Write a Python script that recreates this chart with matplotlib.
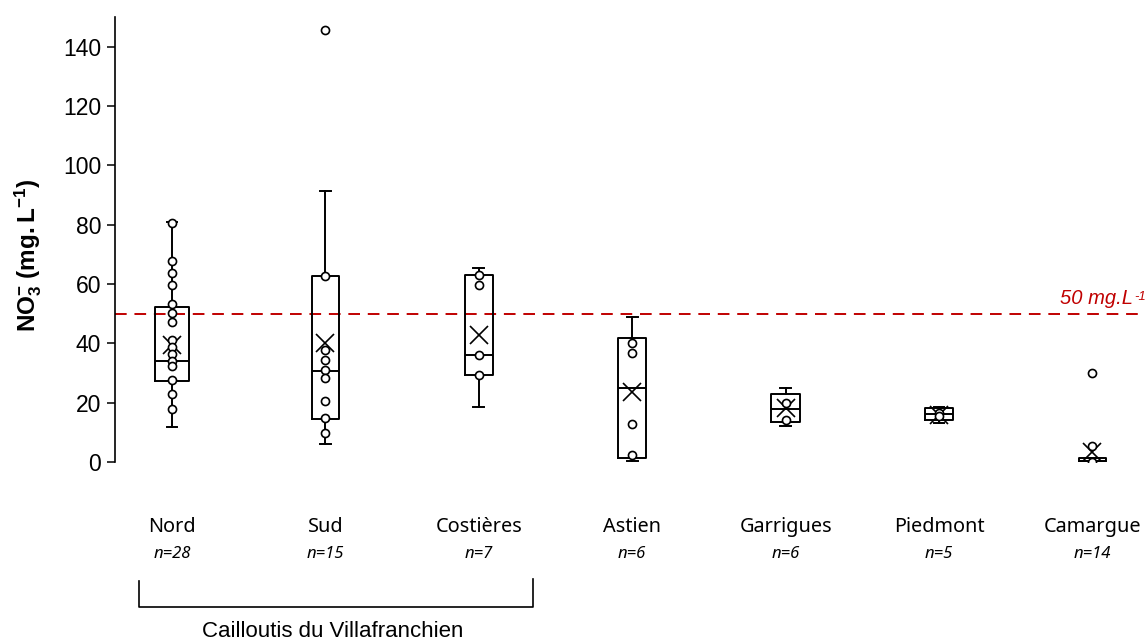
import numpy as np
import matplotlib
matplotlib.use("Agg")
import matplotlib.pyplot as plt
from matplotlib.lines import Line2D
from matplotlib.transforms import blended_transform_factory

plt.rcParams["mathtext.fontset"] = "custom"
plt.rcParams["mathtext.rm"] = "Liberation Sans"
plt.rcParams["mathtext.bf"] = "Liberation Sans:bold"
plt.rcParams["mathtext.it"] = "Liberation Sans:italic"

# ---- data ----
groups = ["Nord", "Sud", "Costières", "Astien", "Garrigues", "Piedmont", "Camargue"]
n_obs = [28, 15, 7, 6, 6, 5, 14]
q1 = [27.4, 14.5, 29.4, 1.2, 13.6, 14.2, 0.0]
medians = [33.9, 30.7, 36.0, 25.1, 17.8, 16.1, 0.5]
q3 = [52.4, 62.8, 62.9, 41.9, 22.9, 18.1, 1.2]
whis_lo = [11.9, 6.1, 18.7, 0.4, 12.2, 13.0, 0.0]
whis_hi = [80.8, 91.2, 65.3, 49.0, 24.9, 18.7, 1.2]
means = [39.5, 40.0, 42.8, 23.7, 18.1, 16.0, 3.5]
points = [
    [80.5, 67.9, 63.7, 59.7, 53.2, 50.2, 47.3, 41.2, 38.9, 36.4, 34.2, 32.2, 27.7, 22.8, 17.8],
    [145.7, 62.8, 37.6, 34.4, 31.0, 28.2, 20.7, 14.7, 9.7],
    [63.1, 59.7, 36.0, 29.4],
    [40.0, 36.9, 12.7, 2.4],
    [19.8, 14.2],
    [16.6, 15.5],
    [30.1, 5.4, 0.0],
]
threshold = 50
threshold_label = "50 mg.L"
threshold_sup = "-1"
group_label = "Cailloutis du Villafranchien"
yticks = [0, 20, 40, 60, 80, 100, 120, 140]

# ---- figure ----
fig = plt.figure(figsize=(11.48, 6.4), dpi=100)
W, H = 1148, 640
ax = fig.add_axes([115 / W, 1 - 462 / H, (1140 - 115) / W, (462 - 17) / H])

positions = np.arange(1, len(groups) + 1)
stats = []
for i, g in enumerate(groups):
    stats.append(dict(label=g, q1=q1[i], med=medians[i], q3=q3[i],
                      whislo=whis_lo[i], whishi=whis_hi[i], mean=means[i], fliers=[]))

widths = [0.22, 0.18, 0.18, 0.18, 0.19, 0.18, 0.18]
lw = 1.4
ax.bxp(stats, positions=positions, widths=widths, capwidths=0.07,
       showmeans=True, showfliers=False, manage_ticks=False,
       boxprops=dict(color="k", lw=lw),
       whiskerprops=dict(color="k", lw=lw),
       capprops=dict(color="k", lw=lw),
       medianprops=dict(color="k", lw=lw),
       meanprops=dict(marker="x", markeredgecolor="k", markersize=13, markeredgewidth=1.2))

for p, pts in zip(positions, points):
    ax.plot(np.full(len(pts), p), pts, "o", mfc="white", mec="k", ms=5.8, mew=1.2,
            zorder=5, linestyle="none")

ax.axhline(threshold, color="#C00000", lw=1.4, ls=(0, (6, 4)), zorder=1)

ax.set_xlim(0.629, 7.31)
ax.set_ylim(0, 150)
ax.set_yticks(yticks)
ax.set_yticklabels([str(v) for v in yticks], fontfamily="Liberation Sans", fontsize=16.5)
ax.tick_params(axis="y", length=6, width=1.1, pad=4)
ax.set_xticks([])
for s in ["top", "right", "bottom"]:
    ax.spines[s].set_visible(False)
ax.spines["left"].set_linewidth(1.2)

# category labels
tr = blended_transform_factory(ax.transData, fig.transFigure)
for p, g, n in zip(positions, groups, n_obs):
    ax.text(p, 1 - 527 / H, g, transform=tr, ha="center", va="center",
            fontfamily="Noto Sans", fontsize=14.3, clip_on=False)
    ax.text(p, 1 - 554 / H, f"n={n}", transform=tr, ha="center", va="center",
            fontfamily="Noto Sans", fontstyle="italic", fontsize=12, clip_on=False)

# bracket
x0, x1 = 139 / W, 533 / W
yb, yt = 1 - 607 / H, 1 - 581 / H
fig.add_artist(Line2D([x0, x0, x1, x1], [yt, yb, yb, yt + 2 / H], color="k", lw=1.2,
                      transform=fig.transFigure))
fig.text(333 / W, 1 - 637 / H, group_label, ha="center", va="baseline",
         fontfamily="Liberation Sans", fontsize=16)

# threshold label (italic text with a superscript)
t_main = fig.text(1133 / W, 1 - 304 / H, threshold_label, ha="right", va="baseline",
                  color="#C00000", fontsize=14.5, fontstyle="italic",
                  fontfamily="Liberation Sans")
fig.canvas.draw()
bb = t_main.get_window_extent()
fig.text((bb.x1 + 1) / W, (bb.y0 + 8) / H, threshold_sup, ha="left", va="baseline",
         color="#C00000", fontsize=9.5, fontstyle="italic", fontfamily="Liberation Sans")

# y label
fig.text(28 / W, 1 - 255 / H, r"$\mathbf{NO_3^{-}\ (mg.L^{-1})}$", rotation=90,
         ha="center", va="center", fontsize=17.5)

fig.savefig("out.png", dpi=100)
